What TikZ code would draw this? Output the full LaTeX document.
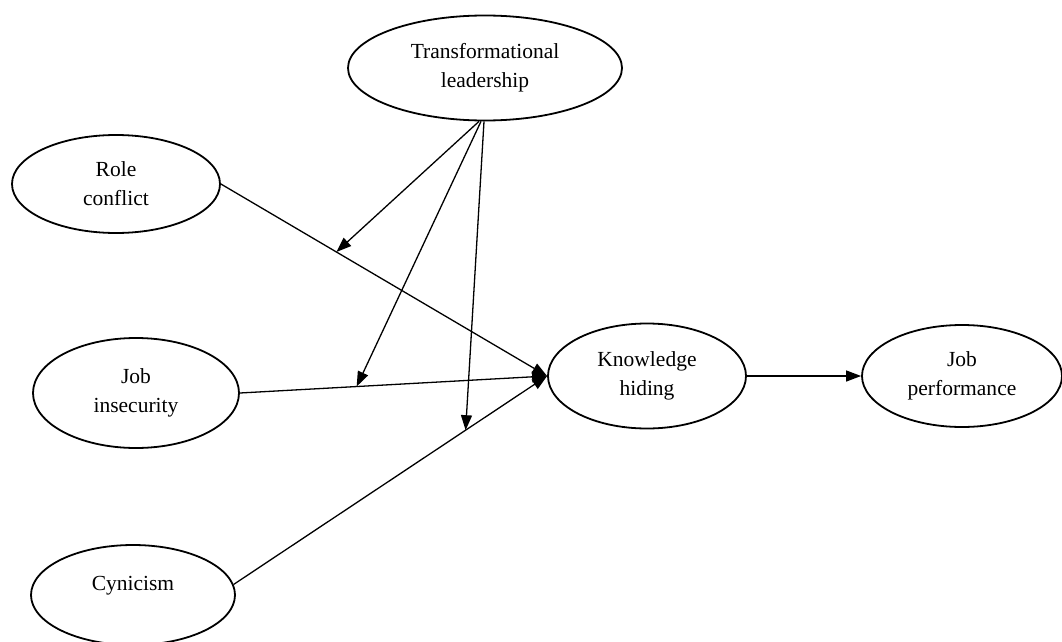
\documentclass[tikz,border=0pt]{standalone}
\usepackage{fontspec}
\setmainfont{Liberation Serif}
\usetikzlibrary{shapes.geometric,arrows.meta}

\begin{document}
\begin{tikzpicture}[x=1pt, y=-1pt, >={Triangle[length=15pt,width=11pt]},
    var/.style={draw, ellipse, line width=1.8pt, align=center,
        font=\fontsize{21.5}{29}\selectfont},
    path/.style={line width=1.3pt}]
    \useasboundingbox (0,0) rectangle (1062,642);
                \node at (485,68) [var, minimum width=274, minimum height=105] (tl) {Transformational\\leadership};
                \node at (116,184) [var, minimum width=208, minimum height=98] (rc) {Role\\conflict};
                \node at (136,393) [var, minimum width=206, minimum height=110] (ji) {Job\\insecurity};
                \node at (133,595) [var, minimum width=204, minimum height=100, text depth=24pt] (cy) {Cynicism};
                \node at (647,376) [var, minimum width=198, minimum height=105] (kh) {Knowledge\\hiding};
                \node at (962,376) [var, minimum width=200, minimum height=102] (jp) {Job\\performance};
                % direct effects
                \draw[->, path] (rc.east) -- (kh.west) coordinate[pos=0.354] (m1);
                \draw[->, path] (ji.east) -- (kh.west) coordinate[pos=0.38] (m2);
                \draw[->, path] (cy.6) -- (kh.west) coordinate[pos=0.74] (m3);
                \draw[->, path] (kh.east) -- (jp.west);
                % moderation
                \draw[->, path] ([xshift=-6]tl.south) -- (m1);
                \draw[->, path] ([xshift=-4]tl.south) -- (m2);
                \draw[->, path] ([xshift=-1]tl.south) -- (m3);
            \end{tikzpicture}
\end{document}
